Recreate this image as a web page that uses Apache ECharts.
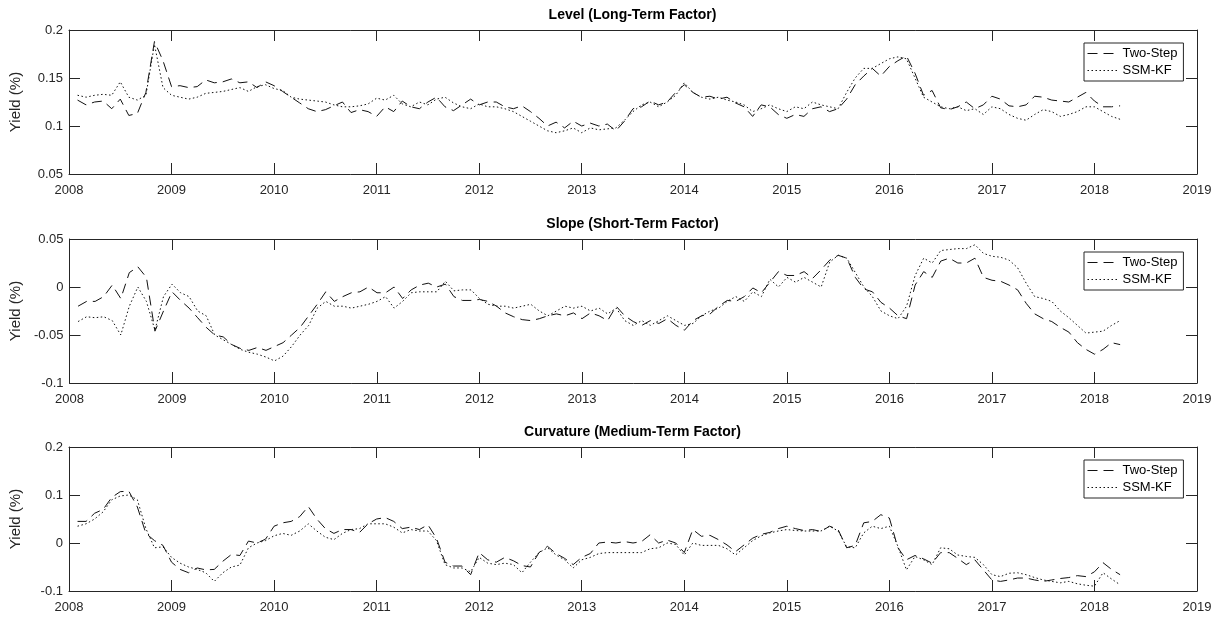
<!DOCTYPE html>
<html>
<head>
<meta charset="utf-8">
<script src="https://cdn.jsdelivr.net/npm/echarts@6/dist/echarts.min.js"></script>
<style>
html,body{margin:0;padding:0;background:#fff;}
#chart{width:1229px;height:619px;}
</style>
</head>
<body>
<div id="chart"></div>
<script>
// ---- data (monthly, Jan 2008 .. Mar 2018) ----
const startYear = 2008;
const monthCount = 123;
const months = Array.from({length: monthCount}, (_, i) => startYear + (i + 1) / 12);

const xTicks = [2008, 2009, 2010, 2011, 2012, 2013, 2014, 2015, 2016, 2017, 2018, 2019];
const panelTitles = ['Level (Long-Term Factor)', 'Slope (Short-Term Factor)', 'Curvature (Medium-Term Factor)'];
const seriesNames = ['Two-Step', 'SSM-KF'];

const levelTwoStep = [
  0.127,0.122,0.125,0.126,0.118,0.128,0.111,0.113,0.135,0.188,0.168,0.141,
  0.142,0.140,0.141,0.148,0.145,0.146,0.149,0.145,0.146,0.140,0.146,0.142,
  0.136,0.130,0.124,0.118,0.115,0.117,0.121,0.125,0.114,0.117,0.115,0.110,
  0.120,0.115,0.126,0.120,0.118,0.125,0.130,0.120,0.116,0.122,0.128,0.122,
  0.125,0.125,0.120,0.118,0.121,0.115,0.108,0.100,0.104,0.098,0.105,0.100,
  0.103,0.100,0.102,0.095,0.105,0.118,0.120,0.126,0.122,0.125,0.135,0.143,
  0.135,0.130,0.131,0.128,0.130,0.124,0.120,0.110,0.122,0.120,0.112,0.108,
  0.112,0.110,0.118,0.120,0.115,0.118,0.128,0.143,0.152,0.160,0.152,0.162,
  0.168,0.173,0.155,0.132,0.137,0.119,0.117,0.120,0.125,0.118,0.122,0.131,
  0.128,0.121,0.120,0.122,0.131,0.130,0.127,0.126,0.125,0.130,0.135,0.126,
  0.120,0.120,0.121
];
const levelSSMKF = [
  0.132,0.130,0.132,0.133,0.132,0.146,0.130,0.127,0.132,0.185,0.140,0.132,
  0.130,0.128,0.130,0.134,0.135,0.136,0.138,0.140,0.136,0.141,0.143,0.139,
  0.137,0.130,0.128,0.127,0.126,0.125,0.122,0.120,0.120,0.121,0.123,0.129,
  0.127,0.132,0.123,0.120,0.125,0.122,0.128,0.130,0.124,0.120,0.118,0.123,
  0.120,0.120,0.118,0.115,0.110,0.105,0.100,0.095,0.093,0.095,0.098,0.093,
  0.098,0.096,0.097,0.098,0.106,0.115,0.122,0.125,0.120,0.125,0.132,0.145,
  0.135,0.130,0.128,0.130,0.127,0.125,0.122,0.115,0.118,0.122,0.118,0.115,
  0.120,0.118,0.125,0.122,0.120,0.118,0.135,0.150,0.160,0.160,0.165,0.170,
  0.172,0.170,0.150,0.130,0.125,0.120,0.118,0.120,0.116,0.118,0.112,0.120,
  0.118,0.112,0.108,0.106,0.112,0.117,0.115,0.110,0.112,0.115,0.120,0.120,
  0.115,0.110,0.107
];
const slopeTwoStep = [
  -0.020,-0.015,-0.015,-0.010,0.002,-0.012,0.015,0.021,0.010,-0.046,-0.025,-0.005,
  -0.014,-0.022,-0.032,-0.042,-0.050,-0.052,-0.060,-0.064,-0.066,-0.063,-0.066,-0.062,
  -0.058,-0.050,-0.042,-0.030,-0.018,-0.005,-0.015,-0.010,-0.006,-0.005,0.000,-0.006,
  -0.006,0.000,-0.012,-0.003,0.002,0.004,0.000,0.003,-0.010,-0.014,-0.014,-0.013,
  -0.015,-0.020,-0.027,-0.031,-0.034,-0.035,-0.033,-0.030,-0.028,-0.030,-0.027,-0.033,
  -0.027,-0.030,-0.035,-0.020,-0.030,-0.036,-0.040,-0.035,-0.038,-0.033,-0.040,-0.045,
  -0.035,-0.030,-0.028,-0.020,-0.014,-0.015,-0.010,-0.001,-0.006,0.005,0.016,0.012,
  0.012,0.016,0.009,0.018,0.028,0.033,0.030,0.010,-0.002,-0.005,-0.016,-0.022,
  -0.030,-0.033,0.002,0.016,0.010,0.027,0.030,0.025,0.025,0.030,0.010,0.007,
  0.006,0.002,-0.003,-0.017,-0.028,-0.033,-0.036,-0.042,-0.047,-0.058,-0.065,-0.070,
  -0.065,-0.058,-0.060
];
const slopeSSMKF = [
  -0.036,-0.031,-0.032,-0.031,-0.035,-0.050,-0.020,0.000,-0.015,-0.045,-0.010,0.003,
  -0.006,-0.010,-0.025,-0.030,-0.050,-0.055,-0.060,-0.065,-0.068,-0.070,-0.073,-0.077,
  -0.072,-0.062,-0.050,-0.040,-0.022,-0.015,-0.020,-0.020,-0.022,-0.020,-0.018,-0.015,
  -0.010,-0.022,-0.015,-0.006,-0.005,-0.005,-0.005,0.006,-0.004,-0.003,-0.003,-0.012,
  -0.018,-0.020,-0.020,-0.022,-0.020,-0.018,-0.025,-0.030,-0.025,-0.020,-0.022,-0.020,
  -0.025,-0.022,-0.028,-0.022,-0.035,-0.040,-0.035,-0.040,-0.035,-0.030,-0.035,-0.040,
  -0.038,-0.030,-0.025,-0.022,-0.015,-0.010,-0.015,-0.005,-0.010,0.008,0.000,0.010,
  0.005,0.010,0.005,0.000,0.026,0.033,0.030,0.015,0.000,-0.010,-0.025,-0.030,
  -0.033,-0.020,0.012,0.030,0.025,0.038,0.039,0.040,0.040,0.044,0.035,0.032,
  0.031,0.028,0.020,0.004,-0.010,-0.012,-0.015,-0.025,-0.032,-0.040,-0.048,-0.047,
  -0.046,-0.040,-0.035
];
const curvTwoStep = [
  0.045,0.045,0.062,0.070,0.095,0.107,0.108,0.075,0.020,0.005,-0.005,-0.040,
  -0.055,-0.062,-0.052,-0.056,-0.055,-0.038,-0.024,-0.026,0.004,0.000,0.008,0.035,
  0.042,0.045,0.055,0.076,0.050,0.030,0.020,0.028,0.028,0.022,0.040,0.050,
  0.053,0.045,0.030,0.033,0.028,0.038,0.010,-0.040,-0.048,-0.048,-0.066,-0.020,
  -0.035,-0.040,-0.030,-0.037,-0.047,-0.050,-0.020,-0.007,-0.022,-0.032,-0.045,-0.030,
  -0.022,0.000,0.002,0.000,0.003,0.000,0.003,0.017,0.000,0.006,0.000,-0.020,
  0.028,0.014,0.016,0.007,-0.004,-0.018,-0.004,0.010,0.018,0.022,0.030,0.035,
  0.030,0.026,0.028,0.024,0.035,0.028,-0.010,-0.005,0.042,0.045,0.059,0.052,
  -0.010,-0.035,-0.026,-0.033,-0.042,-0.020,-0.020,-0.032,-0.045,-0.035,-0.056,-0.077,
  -0.080,-0.077,-0.073,-0.073,-0.077,-0.080,-0.077,-0.074,-0.072,-0.068,-0.070,-0.060,
  -0.041,-0.055,-0.066
];
const curvSSMKF = [
  0.035,0.040,0.050,0.065,0.090,0.098,0.100,0.090,0.030,-0.010,-0.008,-0.030,
  -0.042,-0.050,-0.055,-0.062,-0.080,-0.062,-0.050,-0.046,-0.010,0.000,0.005,0.015,
  0.020,0.016,0.025,0.040,0.025,0.012,0.007,0.020,0.028,0.030,0.040,0.040,
  0.040,0.033,0.021,0.028,0.025,0.025,0.005,-0.045,-0.052,-0.052,-0.060,-0.030,
  -0.042,-0.045,-0.042,-0.045,-0.062,-0.040,-0.020,-0.010,-0.025,-0.035,-0.052,-0.035,
  -0.030,-0.022,-0.020,-0.020,-0.020,-0.020,-0.020,-0.012,-0.010,0.000,-0.003,-0.025,
  0.000,-0.005,-0.005,-0.005,-0.012,-0.025,-0.010,0.005,0.015,0.021,0.025,0.028,
  0.026,0.025,0.025,0.025,0.035,0.025,-0.008,-0.010,0.021,0.035,0.030,0.035,
  -0.007,-0.056,-0.028,-0.035,-0.045,-0.010,-0.012,-0.025,-0.028,-0.030,-0.045,-0.066,
  -0.070,-0.063,-0.062,-0.066,-0.072,-0.077,-0.080,-0.083,-0.080,-0.085,-0.088,-0.090,
  -0.062,-0.075,-0.087
];

const yRanges = [
  {min: 0.05, max: 0.2, interval: 0.05},
  {min: -0.1, max: 0.05, interval: 0.05},
  {min: -0.1, max: 0.2, interval: 0.1}
];
const panelData = [
  [levelTwoStep, levelSSMKF],
  [slopeTwoStep, slopeSSMKF],
  [curvTwoStep, curvSSMKF]
];

// ---- layout / styling ----
const FONT = "'Liberation Sans', Arial, Helvetica, sans-serif";
const AX = '#262626';
const plotLeft = 68, plotWidth = 1129, plotHeight = 144;
const plotTops = [30, 239, 447];

const grids = [], xAxes = [], yAxes = [], series = [], titles = [], legends = [];
const fmt = v => String(Math.round(v * 1000) / 1000);

plotTops.forEach((top, p) => {
  grids.push({left: plotLeft, top: top, width: plotWidth, height: plotHeight, containLabel: false});
  const xBase = {
    gridIndex: p, type: 'value', min: xTicks[0], max: xTicks[xTicks.length - 1], interval: 1,
    axisLine: {show: true, onZero: false, lineStyle: {color: AX, width: 1}},
    axisTick: {show: true, inside: true, length: 11, lineStyle: {color: AX}},
    splitLine: {show: false}
  };
  xAxes.push(Object.assign({}, xBase, {
    position: 'bottom',
    axisLabel: {show: true, color: AX, fontSize: 13, fontFamily: FONT, margin: 10, formatter: v => String(v)}
  }));
  xAxes.push(Object.assign({}, xBase, {position: 'top', axisLabel: {show: false}}));
  const yBase = {
    gridIndex: p, type: 'value', min: yRanges[p].min, max: yRanges[p].max, interval: yRanges[p].interval,
    axisLine: {show: true, onZero: false, lineStyle: {color: AX, width: 1}},
    axisTick: {show: true, inside: true, length: 11, lineStyle: {color: AX}},
    splitLine: {show: false}
  };
  yAxes.push(Object.assign({}, yBase, {
    position: 'left',
    name: 'Yield (%)', nameLocation: 'middle', nameRotate: 90, nameGap: 46,
    nameTextStyle: {color: AX, fontSize: 15, fontFamily: FONT},
    axisLabel: {show: true, color: AX, fontSize: 13, fontFamily: FONT, margin: 6, formatter: fmt}
  }));
  yAxes.push(Object.assign({}, yBase, {position: 'right', axisLabel: {show: false}}));

  const dashStyles = [[10, 6], [1.5, 2.5]];
  panelData[p].forEach((arr, k) => {
    series.push({
      name: seriesNames[k], type: 'line',
      xAxisIndex: p * 2, yAxisIndex: p * 2,
      data: months.map((t, i) => [t, arr[i]]),
      symbol: 'none', showSymbol: false,
      lineStyle: {color: '#111', width: 1, type: dashStyles[k]},
      itemStyle: {color: '#111'},
      animation: false, silent: true
    });
  });

  titles.push({
    text: panelTitles[p], left: plotLeft + plotWidth / 2, textAlign: 'center',
    top: top - 22, padding: 0,
    textStyle: {fontSize: 14, fontWeight: 'bold', color: '#000', fontFamily: FONT}
  });

  legends.push({
    data: seriesNames, orient: 'vertical', left: 1084, top: top + 13,
    borderColor: AX, borderWidth: 1, backgroundColor: '#fff',
    padding: [4, 6, 4, 3], itemWidth: 30, itemHeight: 13, itemGap: 4,
    selectedMode: false,
    itemStyle: {opacity: 0, color: 'rgba(0,0,0,0)', borderWidth: 0},
    lineStyle: {width: 1},
    textStyle: {fontSize: 13, color: '#000', fontFamily: FONT}
  });
});

const chart = echarts.init(document.getElementById('chart'), null, {renderer: 'canvas'});
chart.setOption({
  backgroundColor: '#fff',
  animation: false,
  title: titles,
  legend: legends,
  grid: grids,
  xAxis: xAxes,
  yAxis: yAxes,
  series: series
});
</script>
</body>
</html>
